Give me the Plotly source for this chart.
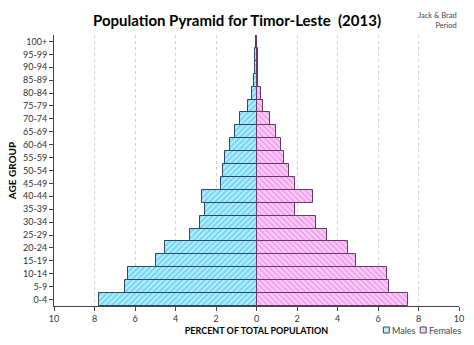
import plotly.graph_objects as go

age_groups = ["0-4", "5-9", "10-14", "15-19", "20-24", "25-29", "30-34", "35-39",
              "40-44", "45-49", "50-54", "55-59", "60-64", "65-69", "70-74", "75-79",
              "80-84", "85-89", "90-94", "95-99", "100+"]
males = [7.77, 6.49, 6.33, 4.97, 4.50, 3.27, 2.79, 2.54, 2.67, 1.73, 1.63, 1.56,
         1.30, 1.07, 0.81, 0.42, 0.21, 0.10, 0.08, 0.06, 0.02]
females = [7.46, 6.53, 6.46, 4.91, 4.53, 3.50, 2.94, 1.88, 2.78, 1.88, 1.58, 1.37,
           1.22, 0.97, 0.65, 0.34, 0.24, 0.09, 0.08, 0.06, 0.02]
tick_vals = [-10, -8, -6, -4, -2, 0, 2, 4, 6, 8, 10]
tick_text = ["10", "8", "6", "4", "2", "0", "2", "4", "6", "8", "10"]
series_names = ["Males", "Females"]

FONT = "Lato, 'Open Sans', sans-serif"
M_BG, M_FG, M_LN = "#B8F0FF", "#2EB4E6", "#2B4A66"
F_BG, F_FG, F_LN = "#FFD0FA", "#E070E0", "#6A3A66"

fig = go.Figure()
fig.add_trace(go.Bar(
    y=age_groups, x=[-v for v in males], orientation="h", name=series_names[0],
    showlegend=False,
    marker=dict(color=M_BG, line=dict(color=M_LN, width=1),
                pattern=dict(shape="/", fgcolor=M_FG, bgcolor=M_BG,
                             size=4, solidity=0.5)),
))
fig.add_trace(go.Bar(
    y=age_groups, x=females, orientation="h", name=series_names[1],
    showlegend=False,
    marker=dict(color=F_BG, line=dict(color=F_LN, width=1),
                pattern=dict(shape="\\", fgcolor=F_FG, bgcolor=F_BG,
                             size=4, solidity=0.5)),
))

fig.update_layout(
    width=474, height=345,
    margin=dict(l=52, r=15, t=35, b=39),
    paper_bgcolor="white", plot_bgcolor="white",
    barmode="relative", bargap=0,
    font=dict(family=FONT, size=9, color="#333333"),
    title=dict(text="<b>Population Pyramid for Timor-Leste  (2013)</b>",
               x=0.5, xanchor="center", y=0.94, yanchor="middle",
               font=dict(family=FONT, size=15, color="#000000")),
    showlegend=False,
    xaxis=dict(range=[-10, 10], tickvals=tick_vals, ticktext=tick_text,
               showgrid=True, gridcolor="#CFCFCF", griddash="dot", gridwidth=1,
               zeroline=False, showline=True, linecolor="#444444", linewidth=1,
               ticks="outside", ticklen=4, tickcolor="#444444",
               tickfont=dict(size=9, color="#333333"), automargin=False,
               title=dict(text="<b>PERCENT OF TOTAL POPULATION</b>",
                          font=dict(size=9, color="#000000"), standoff=4)),
    yaxis=dict(categoryorder="array", categoryarray=age_groups,
               range=[-0.5, 20.5],
               showgrid=False, zeroline=False, showline=True, linecolor="#444444",
               linewidth=1, ticks="outside", ticklen=4, tickcolor="#444444",
               tickfont=dict(size=9, color="#333333"),
               title=dict(text="<b>AGE GROUP</b>",
                          font=dict(size=10, color="#000000"), standoff=4)),
)

fig.add_annotation(text="Jack & Brad<br>Period", xref="paper", yref="paper",
                   x=1.0, y=1.055, xanchor="right", yanchor="middle", align="right",
                   showarrow=False, font=dict(family=FONT, size=7.5, color="#444444"))

# custom compact legend (paper coords; plot area 407 x 271 px)
legend_items = [(series_names[0], 383, M_BG, M_FG), (series_names[1], 420, F_BG, F_FG)]
ly = (306 - 330) / 271
for name, px, bg, ln in legend_items:
    x0 = (px - 52) / 407
    fig.add_shape(type="rect", xref="paper", yref="paper",
                  x0=x0, x1=x0 + 6 / 407, y0=ly - 3 / 271, y1=ly + 3 / 271,
                  fillcolor=bg, line=dict(color="#3A4A5A", width=1))
    fig.add_annotation(text=name, xref="paper", yref="paper",
                       x=x0 + 7 / 407, y=ly, xanchor="left", yanchor="middle",
                       showarrow=False, font=dict(family=FONT, size=9, color="#444444"))

fig.write_html("out.html")
